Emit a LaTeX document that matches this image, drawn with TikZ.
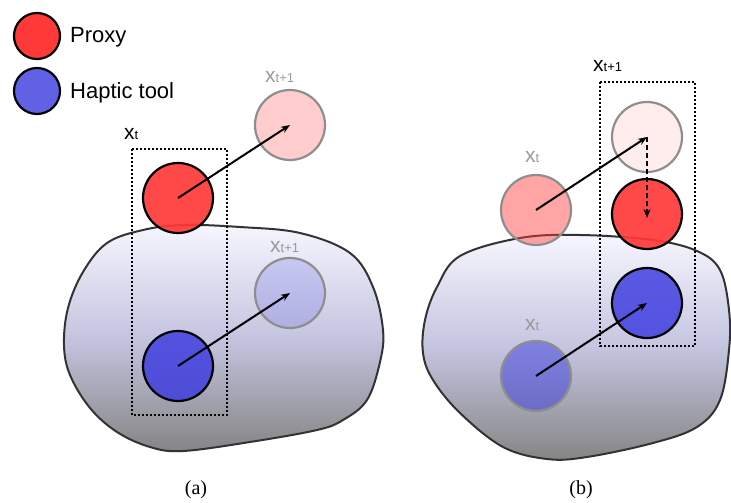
\documentclass[tikz,border=0pt]{standalone}
\usepackage{fontspec}
\setmainfont{Liberation Sans}
\newfontfamily\capfont{Liberation Serif}
\usetikzlibrary{arrows.meta}
\definecolor{pred}{HTML}{FF3838}
\definecolor{hblue}{HTML}{3A3AE0}
\definecolor{ghostgray}{HTML}{8E8E8E}
\definecolor{labgray}{HTML}{9A9A9A}
\definecolor{blobline}{HTML}{333333}
\definecolor{blobtop}{HTML}{F6F6FF}
\definecolor{blobmid}{HTML}{C4C4E0}
\definecolor{blobbot}{HTML}{858585}
\newcommand\xlab[1]{{\fontsize{21}{21}\selectfont x}{\fontsize{13}{13}\selectfont #1}}
\begin{document}
\begin{tikzpicture}[x=1pt,y=-1pt,
  blob/.style={draw=blobline, line width=2pt, top color=blobtop, bottom color=blobbot, middle color=blobmid},
  redc/.style={circle, inner sep=0pt, minimum size=70pt, draw=black, line width=2.2pt, fill=pred, fill opacity=0.92, draw opacity=1},
  bluec/.style={circle, inner sep=0pt, minimum size=70pt, draw=black, line width=2.2pt, fill=hblue, fill opacity=0.82, draw opacity=1},
  ghost/.style={circle, inner sep=0pt, minimum size=70pt, draw=ghostgray, line width=2.2pt, draw opacity=1},
  lab/.style={anchor=base west, inner sep=0pt, text=black},
  glab/.style={anchor=base west, inner sep=0pt, text=labgray},
  arr/.style={line width=2pt, -{Stealth[length=9pt,width=7pt]}},
  box/.style={draw=black, line width=2pt, dash pattern=on 2pt off 2pt},
  captext/.style={font=\capfont\fontsize{20}{20}\selectfont, inner sep=0pt}
]
\useasboundingbox (0,0) rectangle (731,503);

% legend
\node[redc, minimum size=46pt, fill opacity=1] (lr) at (37,36) {};
\node[lab, font=\fontsize{22}{22}\selectfont] (lp) at (70,43) {Proxy};
\node[bluec, minimum size=46pt, fill opacity=0.8] (lb) at (37,91) {};
\node[lab, font=\fontsize{22}{22}\selectfont] (lh) at (70,99) {Haptic tool};

% ---------- panel (a) ----------
\path[blob] plot[smooth cycle, tension=0.6] coordinates {
 (183,225) (240,227) (300,233) (350,253) (373,287) (383,330) (380,362)
 (367,400) (343,420) (317,430) (250,442) (183,451) (150,447) (117,432)
 (90,408) (70,375) (64,345) (68,308) (83,272) (107,243) (143,230)};

\node[ghost, fill=pred, fill opacity=0.25] (ar1) at (290,125) {};
\node[ghost, fill=hblue, fill opacity=0.18] (ab1) at (290,293) {};
\node[redc] (ar0) at (178,198) {};
\node[bluec] (ab0) at (178,366) {};
\draw[box] (132,149) rectangle (227,415);
\draw[arr] (ar0.center) -- (ar1.center);
\draw[arr] (ab0.center) -- (ab1.center);

\node[lab] (axt) at (124,139) {\xlab{t}};
\node[glab] (axt1a) at (265,83) {\xlab{t+1}};
\node[glab] (axt1b) at (270,252) {\xlab{t+1}};

% ---------- panel (b) ----------
\path[blob] plot[smooth cycle, tension=0.6] coordinates {
 (580,235) (653,240) (697,251) (720,270) (729,310) (729,350) (720,400)
 (697,427) (653,443) (587,457) (547,459) (503,447) (460,413) (433,380)
 (423,353) (425,320) (437,287) (460,256) (520,238)};

\node[ghost, fill=pred, fill opacity=0.45] (br0) at (536,210) {};
\node[ghost, fill=hblue, fill opacity=0.5] (bb0) at (536,376) {};
\node[ghost, fill=pred, fill opacity=0.09] (bru) at (647,137) {};
\node[redc] (br1) at (647,214) {};
\node[bluec] (bb1) at (647,303) {};
\draw[box] (600,82) rectangle (695,346);
\draw[arr] (br0.center) -- (bru.center);
\draw[arr] (bb0.center) -- (bb1.center);
\draw[arr, dash pattern=on 5pt off 3pt, shorten >=-4pt] (bru.center) -- (br1.center);

\node[lab] (bxt1) at (593,71) {\xlab{t+1}};
\node[glab] (bxta) at (525,162) {\xlab{t}};
\node[glab] (bxtb) at (525,330) {\xlab{t}};

% captions
\node[captext] (ca) at (196,490) {(a)};
\node[captext] (cb) at (581,490) {(b)};
\end{tikzpicture}
\end{document}
